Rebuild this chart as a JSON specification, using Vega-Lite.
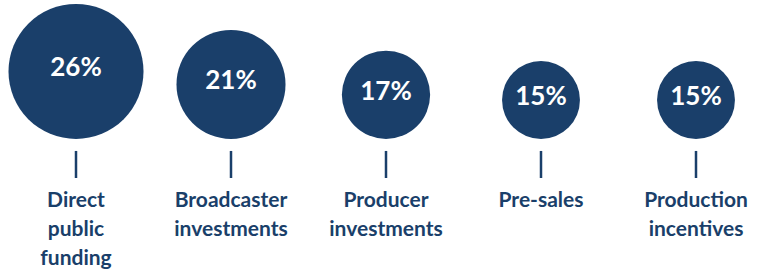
{
  "$schema": "https://vega.github.io/schema/vega-lite/v6.json",
  "width": 759,
  "height": 270,
  "padding": 0,
  "autosize": {"type": "none"},
  "background": "white",
  "config": {"view": {"stroke": null}},
  "data": {
    "values": [
      {"cat": "a", "value": 26, "pct": "26%", "label": "Direct\npublic\nfunding"},
      {"cat": "b", "value": 21, "pct": "21%", "label": "Broadcaster\ninvestments"},
      {"cat": "c", "value": 17, "pct": "17%", "label": "Producer\ninvestments"},
      {"cat": "d", "value": 15, "pct": "15%", "label": "Pre-sales"},
      {"cat": "e", "value": 15, "pct": "15%", "label": "Production\nincentives"}
    ]
  },
  "encoding": {
    "x": {"field": "cat", "type": "nominal", "scale": {"type": "point", "range": [76, 696], "padding": 0}, "axis": null}
  },
  "layer": [
    {
      "mark": {"type": "circle", "color": "#1a3f6a", "opacity": 1},
      "encoding": {
        "y": {"field": "value", "type": "quantitative", "scale": {"domain": [0, 53.46], "range": [139, 0], "nice": false, "zero": false}, "axis": null},
        "size": {"field": "value", "type": "quantitative", "scale": {"type": "pow", "exponent": 2, "domain": [0, 26], "range": [0, 18225]}, "legend": null}
      }
    },
    {
      "mark": {"type": "text", "color": "white", "font": "Lato", "fontWeight": "bold", "fontSize": 26, "baseline": "middle", "align": "center", "dy": -3},
      "encoding": {
        "y": {"field": "value", "type": "quantitative"},
        "text": {"field": "pct"}
      }
    },
    {
      "mark": {"type": "rule", "color": "#1a3f6a", "strokeWidth": 2.5},
      "encoding": {
        "y": {"datum": -4.6},
        "y2": {"datum": -15}
      }
    },
    {
      "mark": {"type": "text", "color": "#1a3f6a", "font": "Lato", "fontWeight": "bold", "fontSize": 21, "baseline": "alphabetic", "align": "center", "lineBreak": "\n", "lineHeight": 29},
      "encoding": {
        "y": {"datum": -26.15},
        "text": {"field": "label"}
      }
    }
  ]
}
